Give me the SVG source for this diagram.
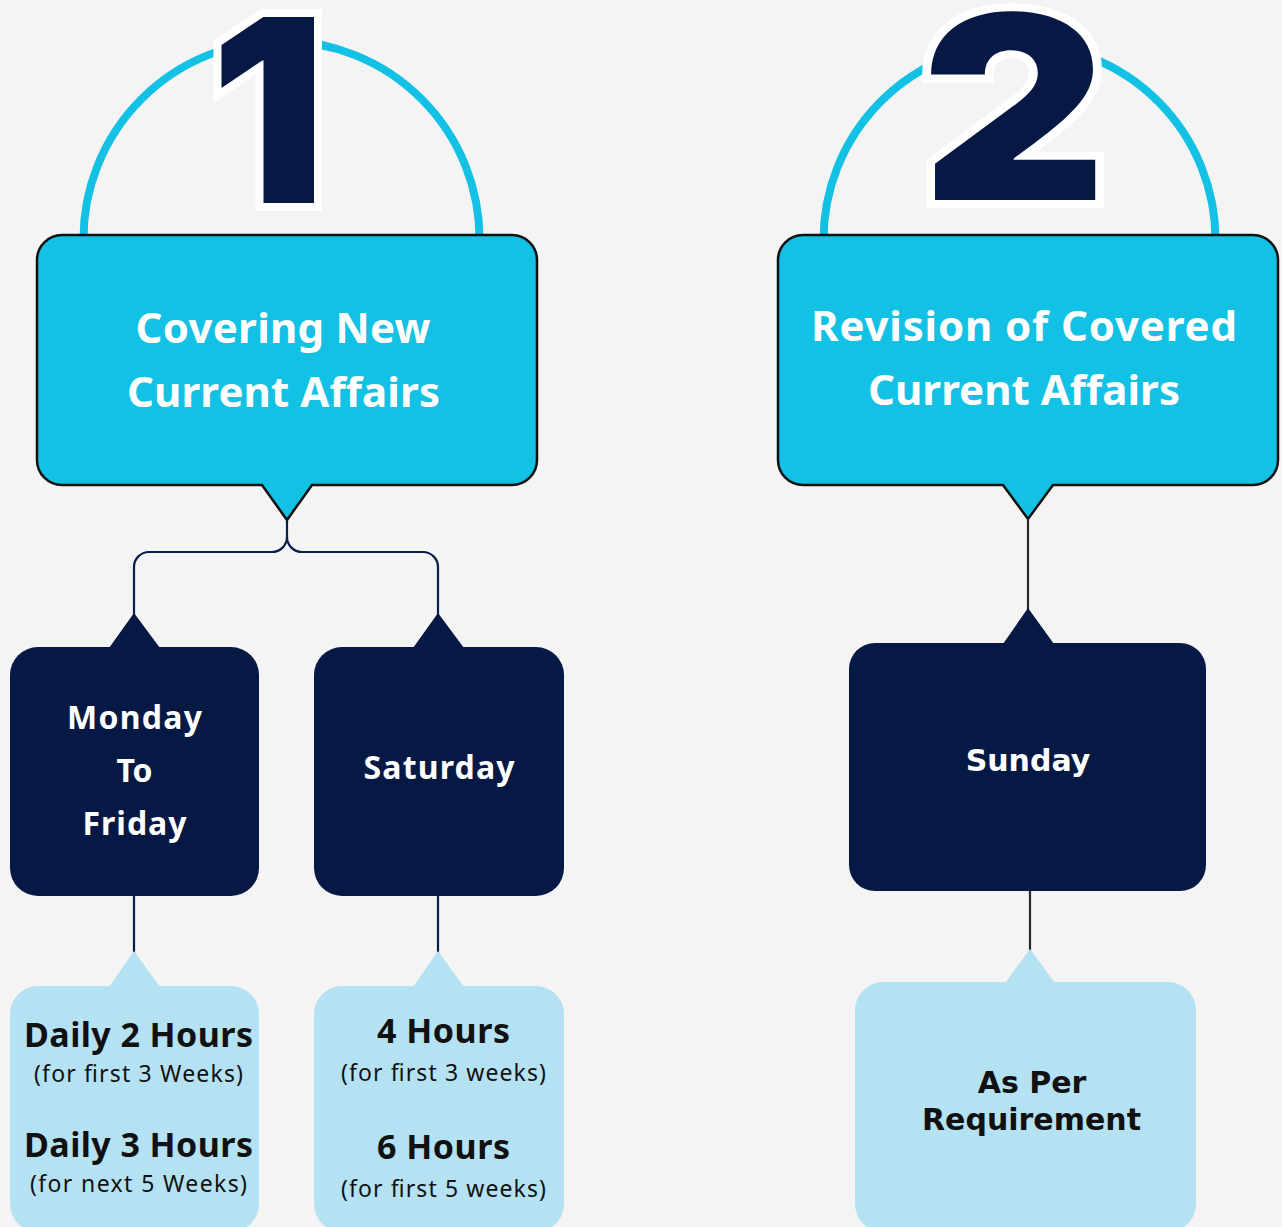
<svg xmlns="http://www.w3.org/2000/svg" width="1282" height="1227" viewBox="0 0 1282 1227">
<style>
.bg{fill:#F4F4F4}
.arc{fill:none;stroke:#12C1E4;stroke-width:8}
.num{font-family:"Inter","Lato","Roboto",sans-serif;font-weight:900;font-size:256px;fill:#061944;stroke:#FFFFFF;stroke-width:16;paint-order:stroke;stroke-linejoin:miter;text-anchor:middle}
.main{fill:#12C1E4;stroke:#111111;stroke-width:2.5;stroke-linejoin:miter}
.dark{fill:#061944}
.light{fill:#B5E2F3}
.con{fill:none;stroke:#0A1F4A;stroke-width:2.2}
.h{font-family:"Noto Sans","Open Sans",sans-serif;font-weight:700;font-size:42px;fill:#FFFFFF;text-anchor:middle}
.d{font-family:"Noto Sans","Open Sans",sans-serif;font-weight:700;font-size:32px;fill:#FFFFFF;text-anchor:middle}
.dv{font-family:"DejaVu Sans",sans-serif;font-weight:700;font-size:30px;text-anchor:middle}
.b{font-family:"Noto Sans","Open Sans",sans-serif;font-weight:700;font-size:34px;fill:#111111;text-anchor:middle}
.s{font-family:"Noto Sans","Open Sans",sans-serif;font-weight:400;font-size:23px;fill:#111111;text-anchor:middle}
</style>
<rect class="bg" x="0" y="0" width="1282" height="1227"/>

<g id="badge1">
<path class="arc" d="M83.5,239 A198,198 0 0 1 479.5,239"/>
<text class="num" x="268" y="203">1</text>
</g>
<g id="badge2">
<path class="arc" d="M823.5,240 A196,196 0 0 1 1215.5,240"/>
<text class="num" x="0" y="0" transform="translate(1014,200) scale(1.12,1)">2</text>
</g>

<g id="node-covering">
<path class="main" d="M62,235 H512 A25,25 0 0 1 537,260 V460 A25,25 0 0 1 512,485 H312 L287,520 L262,485 H62 A25,25 0 0 1 37,460 V260 A25,25 0 0 1 62,235 Z"/>
<text class="h" x="283" y="343" textLength="295">Covering New</text>
<text class="h" x="283.5" y="407" textLength="313">Current Affairs</text>
</g>

<g id="node-revision">
<path class="main" d="M803,235 H1253 A25,25 0 0 1 1278,260 V460 A25,25 0 0 1 1253,485 H1053 L1028,519 L1003,485 H803 A25,25 0 0 1 778,460 V260 A25,25 0 0 1 803,235 Z"/>
<text class="h" x="1024" y="341" textLength="426">Revision of Covered</text>
<text class="h" x="1024" y="405" textLength="312">Current Affairs</text>
</g>

<g id="connectors">
<path class="con" d="M287,520 V537 A15,15 0 0 1 272,552 H149 A15,15 0 0 0 134,567 V615"/>
<path class="con" d="M287,537 A15,15 0 0 0 302,552 H423 A15,15 0 0 1 438,567 V615"/>
<path class="con" d="M134,894 V953"/>
<path class="con" d="M438,894 V953"/>
<path class="con" style="stroke:#2A2A2A" d="M1028,519 V610"/>
<path class="con" style="stroke:#2A2A2A" d="M1030,889 V951"/>
</g>

<g id="node-monday">
<rect class="dark" x="10" y="647" width="249" height="249" rx="28"/>
<polygon class="dark" points="109,648 134,613 160,648"/>
<text class="d" x="134.5" y="729" textLength="135">Monday</text>
<text class="d" x="134.5" y="782">To</text>
<text class="d" x="134.5" y="835" textLength="104">Friday</text>
</g>

<g id="node-saturday">
<rect class="dark" x="314" y="647" width="250" height="249" rx="28"/>
<polygon class="dark" points="413,648 438,613 464,648"/>
<text class="d" x="439" y="779" textLength="151">Saturday</text>
</g>

<g id="node-sunday">
<rect class="dark" x="849" y="643" width="357" height="248" rx="26"/>
<polygon class="dark" points="1003,644 1028,608 1054,644"/>
<text class="dv" x="1028" y="771" fill="#FFFFFF">Sunday</text>
</g>

<g id="node-weekday-hours">
<rect class="light" x="10" y="986" width="249" height="246" rx="28"/>
<polygon class="light" points="109,987 134,951 160,987"/>
<text class="b" x="138.5" y="1047" textLength="229">Daily 2 Hours</text>
<text class="s" x="138.5" y="1082" textLength="209">(for first 3 Weeks)</text>
<text class="b" x="138.5" y="1157" textLength="229">Daily 3 Hours</text>
<text class="s" x="138.5" y="1192" textLength="217">(for next 5 Weeks)</text>
</g>

<g id="node-saturday-hours">
<rect class="light" x="314" y="986" width="250" height="246" rx="28"/>
<polygon class="light" points="413,987 438,951 464,987"/>
<text class="b" x="443.5" y="1043" textLength="133">4 Hours</text>
<text class="s" x="443.5" y="1081" textLength="205">(for first 3 weeks)</text>
<text class="b" x="443.5" y="1159" textLength="133">6 Hours</text>
<text class="s" x="443.5" y="1197" textLength="205">(for first 5 weeks)</text>
</g>

<g id="node-requirement">
<rect class="light" x="855" y="982" width="341" height="250" rx="28"/>
<polygon class="light" points="1005,983 1030,949 1055,983"/>
<text class="dv" x="1032" y="1093" fill="#111111">As Per</text>
<text class="dv" x="1031.5" y="1130" fill="#111111">Requirement</text>
</g>
</svg>
